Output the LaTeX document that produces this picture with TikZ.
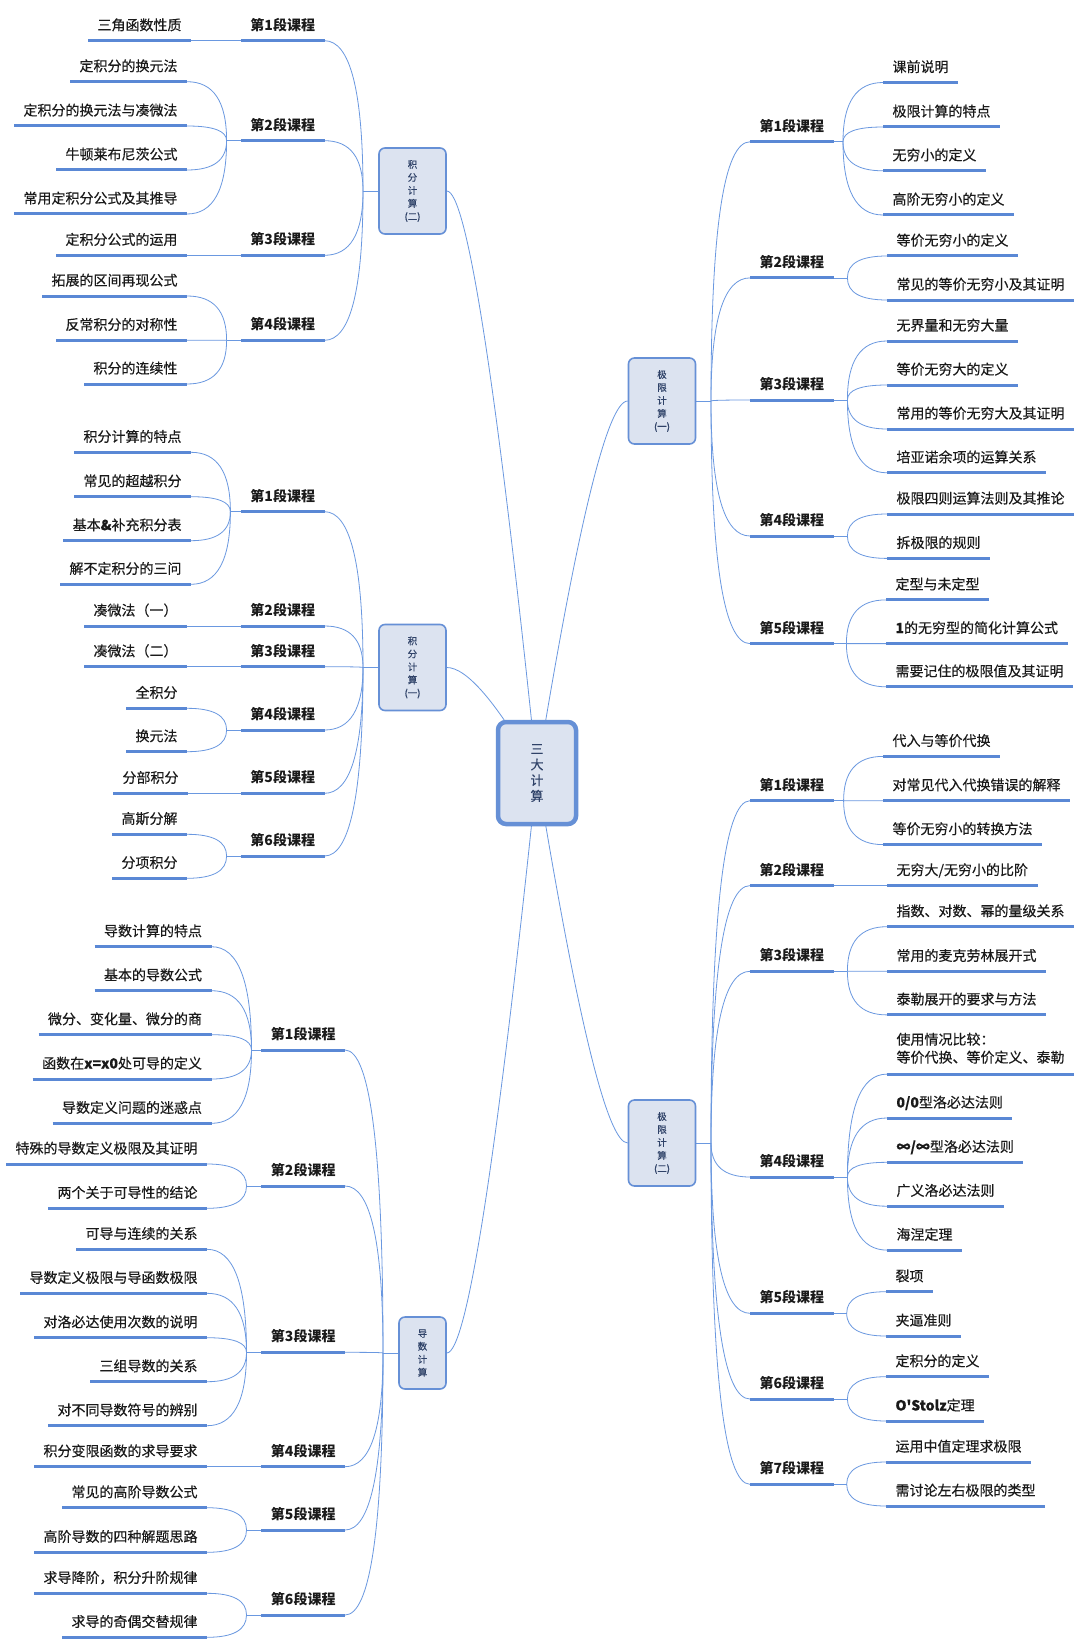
\documentclass[tikz,border=0pt]{standalone}
\usepackage{fontspec}
\newfontfamily\cjk{Noto Sans CJK SC}
\newfontfamily\cjkm[FakeBold=0.35]{Noto Sans CJK SC}
\usetikzlibrary{calc}
\definecolor{ln}{HTML}{5A88D5}
\definecolor{cn}{HTML}{6A98E0}
\definecolor{bxfill}{HTML}{DCE3F0}
\definecolor{bxline}{HTML}{6690D6}
\definecolor{tx}{HTML}{1A1A1A}
\definecolor{bxtx}{HTML}{2F4268}
\pgfdeclarelayer{bgw}\pgfdeclarelayer{bg}\pgfsetlayers{bgw,bg,main}
\tikzset{
  conn/.style={draw=cn, line width=0.8pt},
  uline/.style={draw=ln, line width=3pt},
  leaf/.style={font=\cjkm\fontsize{14}{17}\selectfont, text=tx, inner xsep=9.3pt, inner ysep=0pt},
  sub/.style={leaf, font=\cjk\bfseries\fontsize{14}{17}\selectfont},
  topic/.style={draw=bxline, fill=bxfill, line width=1.6pt, rounded corners=6pt, align=center,
    text=bxtx, font=\cjkm\fontsize{9.5}{13}\selectfont, inner sep=0pt, minimum width=67pt, minimum height=86pt},
  root/.style={draw=bxline, fill=bxfill, line width=4.5pt, rounded corners=8pt, align=center,
    text=bxtx, font=\cjkm\fontsize{13}{15.7}\selectfont, inner sep=0pt, minimum width=78pt, minimum height=102pt}
}
% left-side topic: inner end is the right end of the underline
\newcommand\mmleafl[4]{%
  \coordinate (#1i) at (#2,#3);
  \node[leaf, anchor=base east] (#1) at (#2,#3-10.5) {#4};
  \coordinate (#1o) at (#1.west |- #1i);
  \draw[uline] (#1o) -- (#1i);}
\newcommand\mmleafr[4]{%
  \coordinate (#1i) at (#2,#3);
  \node[leaf, anchor=base west] (#1) at (#2,#3-10.5) {#4};
  \coordinate (#1o) at (#1.east |- #1i);
  \draw[uline] (#1i) -- (#1o);}
\newcommand\mmsubl[4]{%
  \coordinate (#1i) at (#2,#3);
  \node[sub, anchor=base east] (#1) at (#2,#3-10.5) {#4};
  \coordinate (#1o) at (#1.west |- #1i);
  \draw[uline] (#1o) -- (#1i);}
\newcommand\mmsubr[4]{%
  \coordinate (#1i) at (#2,#3);
  \node[sub, anchor=base west] (#1) at (#2,#3-10.5) {#4};
  \coordinate (#1o) at (#1.east |- #1i);
  \draw[uline] (#1i) -- (#1o);}
% quadratic curve from #1 to #2 with control #3
\newcommand\mmq[3]{%
  \coordinate (qk) at (#3);
  \draw[conn] (#1) .. controls ($(#1)!0.6667!(qk)$) and ($(#2)!0.6667!(qk)$) .. (#2);}
% root branch: from #1 (root centre) to #2
\newcommand\mmr[2]{%
  \coordinate (rk0) at (#2 -| #1);
  \coordinate (rk) at ($(#2)!0.3333!(rk0)$);
  \draw[conn] (#1) .. controls ($(#1)!0.6667!(rk)$) and ($(#2)!0.6667!(rk)$) .. (#2);}

\begin{document}
\begin{tikzpicture}[x=1pt,y=-1pt]
\begin{pgfonlayer}{bgw}
\fill[white] (0,0) rectangle (1080,1645);
\end{pgfonlayer}
\useasboundingbox (0,0) rectangle (1080,1645);

% ---------- boxes ----------
\node[root] (R) at (537,773) {三\\大\\计\\算};
\node[topic] (A) at (412.5,191) {积\\分\\计\\算\\(二)};
\node[topic] (B) at (412.5,667.5) {积\\分\\计\\算\\(一)};
\node[topic, minimum width=47pt, minimum height=72pt] (C) at (422.5,1353) {导\\数\\计\\算};
\node[topic] (D) at (662,401) {极\\限\\计\\算\\(一)};
\node[topic] (E) at (662,1143) {极\\限\\计\\算\\(二)};

\coordinate (JA) at (363,191);
\coordinate (JB) at (363,667.5);
\coordinate (JC) at (383,1353);
\coordinate (JD) at (711,401);
\coordinate (JE) at (711,1143);

% ---------- group A: 积分计算(二) ----------
\mmsubl{A1}{324.5}{40.7}{第1段课程}
\mmsubl{A2}{324.5}{140.7}{第2段课程}
\mmsubl{A3}{324.5}{255.3}{第3段课程}
\mmsubl{A4}{324.5}{340.3}{第4段课程}
\mmleafl{A1a}{191}{40.7}{三角函数性质}
\mmleafl{A2a}{187}{81.7}{定积分的换元法}
\mmleafl{A2b}{187}{126}{定积分的换元法与凑微法}
\mmleafl{A2c}{187}{170}{牛顿莱布尼茨公式}
\mmleafl{A2d}{187}{214}{常用定积分公式及其推导}
\mmleafl{A3a}{187}{255.3}{定积分公式的运用}
\mmleafl{A4a}{187}{296}{拓展的区间再现公式}
\mmleafl{A4b}{187}{340.3}{反常积分的对称性}
\mmleafl{A4c}{187}{384}{积分的连续性}
\coordinate (A2j) at (226.6,140.7);
\coordinate (A4j) at (226.6,340.3);

% ---------- group B: 积分计算(一) ----------
\mmsubl{B1}{324.5}{511.7}{第1段课程}
\mmsubl{B2}{324.5}{626}{第2段课程}
\mmsubl{B3}{324.5}{666.7}{第3段课程}
\mmsubl{B4}{324.5}{730}{第4段课程}
\mmsubl{B5}{324.5}{793.3}{第5段课程}
\mmsubl{B6}{324.5}{856}{第6段课程}
\mmleafl{B1a}{191}{452.3}{积分计算的特点}
\mmleafl{B1b}{191}{496.7}{常见的超越积分}
\mmleafl{B1c}{191}{540.7}{基本{\bfseries\&}补充积分表}
\mmleafl{B1d}{191}{584.3}{解不定积分的三问}
\mmleafl{B2a}{187}{626}{凑微法（一）}
\mmleafl{B3a}{187}{666.7}{凑微法（二）}
\mmleafl{B4a}{187}{708.3}{全积分}
\mmleafl{B4b}{187}{751.7}{换元法}
\mmleafl{B5a}{188}{793.3}{分部积分}
\mmleafl{B6a}{187}{834.3}{高斯分解}
\mmleafl{B6b}{187}{878.3}{分项积分}
\coordinate (B1j) at (230.4,511.7);
\coordinate (B4j) at (226.6,730);
\coordinate (B6j) at (226.6,856);

% ---------- group C: 导数计算 ----------
\mmsubl{C1}{345}{1050}{第1段课程}
\mmsubl{C2}{345}{1186}{第2段课程}
\mmsubl{C3}{345}{1352.3}{第3段课程}
\mmsubl{C4}{345}{1466.7}{第4段课程}
\mmsubl{C5}{345}{1530}{第5段课程}
\mmsubl{C6}{345}{1615}{第6段课程}
\mmleafl{C1a}{211.5}{946.7}{导数计算的特点}
\mmleafl{C1b}{211.5}{990.7}{基本的导数公式}
\mmleafl{C1c}{211.5}{1034.7}{微分、变化量、微分的商}
\mmleafl{C1d}{211.5}{1079}{函数在{\bfseries x=x0}处可导的定义}
\mmleafl{C1e}{211.5}{1123.3}{导数定义问题的迷惑点}
\mmleafl{C2a}{207}{1164}{特殊的导数定义极限及其证明}
\mmleafl{C2b}{207}{1208.3}{两个关于可导性的结论}
\mmleafl{C3a}{207}{1249.3}{可导与连续的关系}
\mmleafl{C3b}{207}{1293.3}{导数定义极限与导函数极限}
\mmleafl{C3c}{207}{1337.7}{对洛必达使用次数的说明}
\mmleafl{C3d}{207}{1381.7}{三组导数的关系}
\mmleafl{C3e}{207}{1425.7}{对不同导数符号的辨别}
\mmleafl{C4a}{207}{1466.7}{积分变限函数的求导要求}
\mmleafl{C5a}{207}{1507.7}{常见的高阶导数公式}
\mmleafl{C5b}{207}{1552.3}{高阶导数的四种解题思路}
\mmleafl{C6a}{207}{1593.3}{求导降阶，积分升阶规律}
\mmleafl{C6b}{207}{1637.3}{求导的奇偶交替规律}
\coordinate (C1j) at (251.5,1050);
\coordinate (C2j) at (246.5,1186);
\coordinate (C3j) at (246.5,1352.3);
\coordinate (C5j) at (246.5,1530);
\coordinate (C6j) at (246.5,1615);

% ---------- group D: 极限计算(一) ----------
\mmsubr{D1}{750}{141.8}{第1段课程}
\mmsubr{D2}{750}{277.9}{第2段课程}
\mmsubr{D3}{750}{400}{第3段课程}
\mmsubr{D4}{750}{536}{第4段课程}
\mmsubr{D5}{750}{643.6}{第5段课程}
\mmleafr{D1a}{883}{82.5}{课前说明}
\mmleafr{D1b}{883}{127}{极限计算的特点}
\mmleafr{D1c}{883}{170.8}{无穷小的定义}
\mmleafr{D1d}{883}{215}{高阶无穷小的定义}
\mmleafr{D2a}{887}{256}{等价无穷小的定义}
\mmleafr{D2b}{887}{300}{常见的等价无穷小及其证明}
\mmleafr{D3a}{887}{341}{无界量和无穷大量}
\mmleafr{D3b}{887}{385}{等价无穷大的定义}
\mmleafr{D3c}{887}{429}{常用的等价无穷大及其证明}
\mmleafr{D3d}{887}{472.8}{培亚诺余项的运算关系}
\mmleafr{D4a}{887}{514}{极限四则运算法则及其推论}
\mmleafr{D4b}{887}{558.4}{拆极限的规则}
\mmleafr{D5a}{886}{599.9}{定型与未定型}
\mmleafr{D5b}{886}{643.6}{{\bfseries 1}的无穷型的简化计算公式}
\mmleafr{D5c}{886}{686.8}{需要记住的极限值及其证明}
\coordinate (D1j) at (843,141.8);
\coordinate (D2j) at (847.4,277.9);
\coordinate (D3j) at (847.4,400);
\coordinate (D4j) at (847.4,536);
\coordinate (D5j) at (846.4,643.6);

% ---------- group E: 极限计算(二) ----------
\mmsubr{E1}{750}{800.7}{第1段课程}
\mmsubr{E2}{750}{885.6}{第2段课程}
\mmsubr{E3}{750}{971.3}{第3段课程}
\mmsubr{E4}{750}{1177}{第4段课程}
\mmsubr{E5}{750}{1313.3}{第5段课程}
\mmsubr{E6}{750}{1399}{第6段课程}
\mmsubr{E7}{750}{1484.3}{第7段课程}
\mmleafr{E1a}{883}{756.4}{代入与等价代换}
\mmleafr{E1b}{883}{800.7}{对常见代入代换错误的解释}
\mmleafr{E1c}{883}{844.6}{等价无穷小的转换方法}
\mmleafr{E2a}{887}{885.6}{无穷大/无穷小的比阶}
\mmleafr{E3a}{887}{926.7}{指数、对数、幂的量级关系}
\mmleafr{E3b}{887}{971.3}{常用的麦克劳林展开式}
\mmleafr{E3c}{887}{1014.9}{泰勒展开的要求与方法}
\coordinate (E4ai) at (887,1074.1);
\node[leaf, anchor=north west, align=left, font=\cjkm\fontsize{14}{18}\selectfont] (E4a) at (887,1032.5) {使用情况比较：\\等价代换、等价定义、泰勒};
\coordinate (E4ao) at (E4a.east |- E4ai);
\draw[uline] (E4ai) -- (E4ao);
\mmleafr{E4b}{887}{1118}{{\bfseries 0/0}型洛必达法则}
\mmleafr{E4c}{887}{1162.3}{{\bfseries ∞/∞}型洛必达法则}
\mmleafr{E4d}{887}{1206.2}{广义洛必达法则}
\mmleafr{E4e}{887}{1250.1}{海涅定理}
\mmleafr{E5a}{886}{1291.7}{裂项}
\mmleafr{E5b}{886}{1336}{夹逼准则}
\mmleafr{E6a}{886}{1376.7}{定积分的定义}
\mmleafr{E6b}{886}{1421}{{\bfseries O'Stolz}定理}
\mmleafr{E7a}{886}{1462}{运用中值定理求极限}
\mmleafr{E7b}{886}{1506}{需讨论左右极限的类型}
\coordinate (E1j) at (843.6,800.7);
\coordinate (E3j) at (847.4,971.3);
\coordinate (E4j) at (847.4,1177);
\coordinate (E5j) at (846.7,1313.3);
\coordinate (E6j) at (847.4,1399);
\coordinate (E7j) at (846.7,1484.3);

% ---------- connectors ----------
\begin{pgfonlayer}{bg}
% root branches
\mmr{R.center}{A.east}
\mmr{R.center}{B.east}
\mmr{R.center}{C.east}
\mmr{R.center}{D.west}
\mmr{R.center}{E.west}
% box to junction
\draw[conn] (A.west) -- (JA);
\draw[conn] (B.west) -- (JB);
\draw[conn] (C.west) -- (JC);
\draw[conn] (D.east) -- (JD);
\draw[conn] (E.east) -- (JE);
% group A
\foreach \s in {A1,A2,A3,A4} {\mmq{\s i}{JA}{JA |- \s i}}
\draw[conn] (A1ai) -- (A1o);
\draw[conn] (A3ai) -- (A3o);
\foreach \l in {A2a,A2b,A2c,A2d} {\mmq{\l i}{A2j}{A2j |- \l i}}
\draw[conn] (A2j) -- (A2o);
\foreach \l in {A4a,A4b,A4c} {\mmq{\l i}{A4j}{A4j |- \l i}}
\draw[conn] (A4j) -- (A4o);
% group B
\foreach \s in {B1,B2,B3,B4,B5,B6} {\mmq{\s i}{JB}{JB |- \s i}}
\foreach \l in {B1a,B1b,B1c,B1d} {\mmq{\l i}{B1j}{B1j |- \l i}}
\draw[conn] (B1j) -- (B1o);
\draw[conn] (B2ai) -- (B2o);
\draw[conn] (B3ai) -- (B3o);
\foreach \l in {B4a,B4b} {\mmq{\l i}{B4j}{B4j |- \l i}}
\draw[conn] (B4j) -- (B4o);
\draw[conn] (B5ai) -- (B5o);
\foreach \l in {B6a,B6b} {\mmq{\l i}{B6j}{B6j |- \l i}}
\draw[conn] (B6j) -- (B6o);
% group C
\foreach \s in {C1,C2,C3,C4,C5,C6} {\mmq{\s i}{JC}{JC |- \s i}}
\foreach \l in {C1a,C1b,C1c,C1d,C1e} {\mmq{\l i}{C1j}{C1j |- \l i}}
\draw[conn] (C1j) -- (C1o);
\foreach \l in {C2a,C2b} {\mmq{\l i}{C2j}{C2j |- \l i}}
\draw[conn] (C2j) -- (C2o);
\foreach \l in {C3a,C3b,C3c,C3d,C3e} {\mmq{\l i}{C3j}{C3j |- \l i}}
\draw[conn] (C3j) -- (C3o);
\draw[conn] (C4ai) -- (C4o);
\foreach \l in {C5a,C5b} {\mmq{\l i}{C5j}{C5j |- \l i}}
\draw[conn] (C5j) -- (C5o);
\foreach \l in {C6a,C6b} {\mmq{\l i}{C6j}{C6j |- \l i}}
\draw[conn] (C6j) -- (C6o);
% group D
\foreach \s in {D1,D2,D3,D4,D5} {\mmq{\s i}{JD}{JD |- \s i}}
\foreach \l in {D1a,D1b,D1c,D1d} {\mmq{\l i}{D1j}{D1j |- \l i}}
\draw[conn] (D1o) -- (D1j);
\foreach \l in {D2a,D2b} {\mmq{\l i}{D2j}{D2j |- \l i}}
\draw[conn] (D2o) -- (D2j);
\foreach \l in {D3a,D3b,D3c,D3d} {\mmq{\l i}{D3j}{D3j |- \l i}}
\draw[conn] (D3o) -- (D3j);
\foreach \l in {D4a,D4b} {\mmq{\l i}{D4j}{D4j |- \l i}}
\draw[conn] (D4o) -- (D4j);
\foreach \l in {D5a,D5b,D5c} {\mmq{\l i}{D5j}{D5j |- \l i}}
\draw[conn] (D5o) -- (D5j);
% group E
\foreach \s in {E1,E2,E3,E4,E5,E6,E7} {\mmq{\s i}{JE}{JE |- \s i}}
\foreach \l in {E1a,E1b,E1c} {\mmq{\l i}{E1j}{E1j |- \l i}}
\draw[conn] (E1o) -- (E1j);
\draw[conn] (E2o) -- (E2ai);
\foreach \l in {E3a,E3b,E3c} {\mmq{\l i}{E3j}{E3j |- \l i}}
\draw[conn] (E3o) -- (E3j);
\foreach \l in {E4a,E4b,E4c,E4d,E4e} {\mmq{\l i}{E4j}{E4j |- \l i}}
\draw[conn] (E4o) -- (E4j);
\foreach \l in {E5a,E5b} {\mmq{\l i}{E5j}{E5j |- \l i}}
\draw[conn] (E5o) -- (E5j);
\foreach \l in {E6a,E6b} {\mmq{\l i}{E6j}{E6j |- \l i}}
\draw[conn] (E6o) -- (E6j);
\foreach \l in {E7a,E7b} {\mmq{\l i}{E7j}{E7j |- \l i}}
\draw[conn] (E7o) -- (E7j);
\end{pgfonlayer}
\end{tikzpicture}
\end{document}
